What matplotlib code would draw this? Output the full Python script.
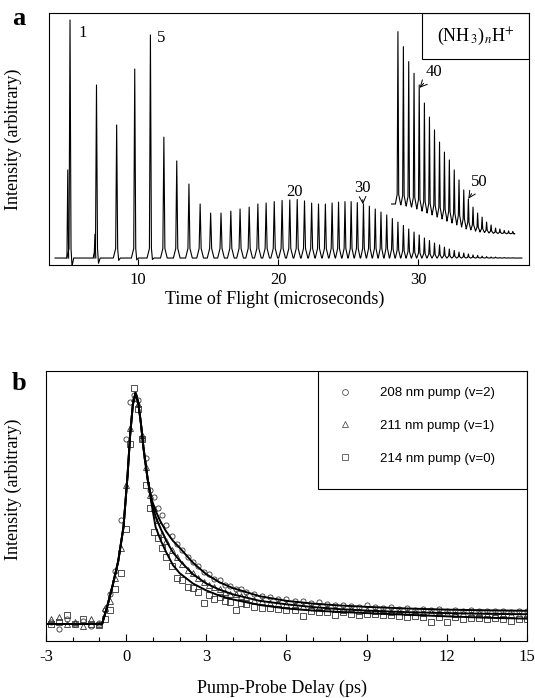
import matplotlib
matplotlib.use("Agg")
import matplotlib.pyplot as plt
from matplotlib.patches import Rectangle
from matplotlib.lines import Line2D

plt.rcParams['font.family'] = ['Liberation Serif', 'DejaVu Serif']
plt.rcParams['mathtext.fontset'] = 'stix'

# ---- panel a: (NH3)nH+ time-of-flight spectrum ----
cluster_n = list(range(1, 61))
peak_tof = [5.14, 7.03, 8.47, 9.76, 10.88, 11.84, 12.76, 13.63, 14.43, 15.18,
            15.92, 16.62, 17.28, 17.93, 18.55, 19.14, 19.72, 20.28, 20.83, 21.36,
            21.88, 22.39, 22.88, 23.37, 23.85, 24.31, 24.77, 25.21, 25.65, 26.09,
            26.51, 26.93, 27.34, 27.75, 28.15, 28.55, 28.94, 29.32, 29.70, 30.07,
            30.44, 30.80, 31.16, 31.52, 31.87, 32.22, 32.57, 32.91, 33.25, 33.58,
            33.91, 34.24, 34.56, 34.88, 35.20, 35.52, 35.83, 36.14, 36.45, 36.75]
peak_height = [100, 72.7, 55.9, 79.4, 93.7, 50.8, 40.8, 31.1, 22.7, 18.9,
               18.9, 19.7, 20.6, 21.4, 22.7, 23.1, 23.7, 24.2, 24.4, 24.6,
               24.0, 23.1, 22.7, 22.7, 23.1, 23.5, 23.7, 23.7, 23.3, 22.7,
               21.8, 20.6, 19.3, 18.1, 16.6, 15.1, 13.7, 12.2, 10.9, 9.7,
               8.4, 7.4, 6.3, 5.5, 4.6, 3.8, 3.2, 2.5, 2.1, 1.7,
               1.3, 1.1, 0.8, 0.6, 0.4, 0.4, 0.2, 0.2, 0.1, 0.1]
# ringing below the baseline after the first peaks
ring_depth = [-3.5, -2.2, -1.0, -0.8, -0.6] + [0.0] * 55
# weaker shoulder peaks in front of n=1 and n=2
shoulder_tof = [4.98, 6.92]
shoulder_height = [37.0, 10.0]
trace_start, trace_end = 4.07, 37.4

# magnified copy of the large clusters (offset trace)
inset_n = list(range(36, 61))
inset_top = [95.1, 88.8, 82.5, 77.6, 72.7, 65.1, 59.2, 53.8, 48.7, 44.5,
             41.2, 37.0, 32.8, 28.6, 24.8, 21.4, 18.9, 17.2, 15.1, 13.9,
             12.6, 12.2, 11.6, 11.4, 11.2]
inset_valley = [22.7, 22.3, 21.8, 21.4, 20.6, 19.7, 18.9, 18.1, 17.2, 16.4,
                15.5, 14.7, 13.9, 13.0, 12.2, 11.8, 11.3, 10.9, 10.7, 10.5,
                10.4, 10.3, 10.3, 10.2, 10.2]
inset_start, inset_end = 28.1, 36.8

# ---- panel b: pump-probe transients ----
delay = [-2.8, -2.5, -2.2, -1.9, -1.6, -1.3, -1.0, -0.8, -0.6, -0.4, -0.2, 0.0,
         0.15, 0.3, 0.45, 0.6, 0.75, 0.9, 1.05, 1.2, 1.35, 1.5,
         1.7, 1.9, 2.1, 2.3, 2.5, 2.7, 2.9, 3.1, 3.3, 3.5, 3.7, 3.9, 4.1, 4.3, 4.5,
         4.8, 5.1, 5.4, 5.7, 6.0, 6.3, 6.6, 6.9, 7.2, 7.5, 7.8, 8.1, 8.4, 8.7,
         9.0, 9.3, 9.6, 9.9, 10.2, 10.5, 10.8, 11.1, 11.4, 11.7, 12.0, 12.3,
         12.6, 12.9, 13.2, 13.5, 13.8, 14.1, 14.4, 14.7, 15.0]
sig_208 = [0.01, -0.02, 0.02, 0.0, 0.015, -0.01, 0.005, 0.06, 0.13, 0.23, 0.45, 0.80,
           0.96, 0.99, 0.97, 0.80, 0.72, 0.58, 0.55, 0.50, 0.47, 0.43,
           0.38, 0.345, 0.32, 0.29, 0.27, 0.25, 0.225, 0.215, 0.195, 0.19, 0.17, 0.165, 0.15, 0.15, 0.14,
           0.13, 0.12, 0.115, 0.11, 0.11, 0.10, 0.10, 0.09, 0.095, 0.085, 0.08, 0.083, 0.078, 0.075,
           0.08, 0.072, 0.07, 0.073, 0.066, 0.068, 0.062, 0.065, 0.06, 0.063, 0.058, 0.062,
           0.057, 0.06, 0.055, 0.058, 0.054, 0.057, 0.052, 0.056, 0.055]
sig_211 = [0.02, 0.03, 0.0, 0.01, -0.01, 0.02, 0.0, 0.07, 0.10, 0.20, 0.33, 0.60,
           0.85, 0.98, 0.95, 0.82, 0.68, 0.56, 0.50, 0.45, 0.39, 0.36,
           0.32, 0.29, 0.26, 0.235, 0.22, 0.20, 0.18, 0.17, 0.16, 0.15, 0.14, 0.13, 0.13, 0.12, 0.115,
           0.105, 0.10, 0.092, 0.09, 0.085, 0.08, 0.078, 0.072, 0.075, 0.068, 0.066, 0.062, 0.065, 0.058,
           0.06, 0.055, 0.056, 0.052, 0.054, 0.05, 0.052, 0.047, 0.05, 0.046, 0.048, 0.044,
           0.047, 0.043, 0.046, 0.042, 0.045, 0.041, 0.044, 0.04, 0.043]
sig_214 = [0.0, 0.01, 0.04, 0.0, 0.02, 0.0, -0.005, 0.02, 0.06, 0.15, 0.22, 0.41,
           0.78, 1.02, 0.93, 0.80, 0.60, 0.50, 0.40, 0.37, 0.33, 0.29,
           0.25, 0.20, 0.19, 0.16, 0.155, 0.14, 0.09, 0.125, 0.11, 0.115, 0.10, 0.095, 0.06, 0.09, 0.085,
           0.075, 0.07, 0.068, 0.065, 0.06, 0.06, 0.035, 0.055, 0.05, 0.05, 0.04, 0.05, 0.045, 0.04,
           0.045, 0.042, 0.04, 0.038, 0.035, 0.03, 0.036, 0.03, 0.01, 0.032, 0.008, 0.03,
           0.02, 0.028, 0.025, 0.022, 0.025, 0.02, 0.012, 0.022, 0.02]

# fitted curves
fit_delay = [-3.0, -0.9, -0.7, -0.5, -0.3, -0.1, 0.05, 0.15, 0.25, 0.35, 0.45, 0.55,
             0.65, 0.8, 0.95, 1.1, 1.3, 1.5, 1.75, 2.0, 2.5, 3.0, 3.5, 4.0, 5.0,
             6.0, 7.0, 8.0, 9.0, 10.5, 12.0, 13.5, 15.0]
rise = [0.0, 0.0, 0.08, 0.17, 0.27, 0.42, 0.64, 0.82, 0.95, 1.0, 0.96, 0.87, 0.76, 0.63]
fit_208 = rise + [0.54, 0.49, 0.44, 0.40, 0.36, 0.33, 0.265, 0.215, 0.18, 0.155, 0.12,
                  0.10, 0.088, 0.08, 0.074, 0.067, 0.062, 0.059, 0.057]
fit_211 = rise + [0.53, 0.465, 0.41, 0.36, 0.31, 0.275, 0.215, 0.175, 0.148, 0.128, 0.10,
                  0.085, 0.073, 0.064, 0.058, 0.051, 0.047, 0.044, 0.042]
fit_214 = rise + [0.52, 0.42, 0.36, 0.31, 0.255, 0.22, 0.175, 0.145, 0.122, 0.106, 0.082,
                  0.067, 0.058, 0.052, 0.047, 0.04, 0.033, 0.027, 0.023]

legend_labels = ['208 nm pump (v=2)', '211 nm pump (v=1)', '214 nm pump (v=0)']


def spike_trace(pos, top, base, dips, start, end, start_level, wmax):
    # each peak drawn as a sharp spike with a broad foot; foot width follows peak spacing
    order = sorted(range(len(pos)), key=lambda i: pos[i])
    xs, ys = [start], [start_level]
    for k, i in enumerate(order):
        p, h, b, d = pos[i], top[i], base[i], dips[i]
        gaps = []
        if k > 0:
            gaps.append(p - pos[order[k - 1]])
        if k < len(order) - 1:
            gaps.append(pos[order[k + 1]] - p)
        w = min(0.47 * min(gaps), wmax)
        foot = min(0.22 * (h - b), 4.0)
        xs += [p - w, p - 0.3 * w, p, p + 0.3 * w]
        ys += [b, b + foot, h, b + foot]
        if d != 0:
            xs += [p + 0.6 * w, p + 1.1 * w]
            ys += [b + d, b]
        else:
            xs.append(p + w)
            ys.append(b)
    xs.append(end)
    ys.append(ys[-1])
    return xs, ys


fig = plt.figure(figsize=(5.35, 6.98), dpi=100)

# ---------------- panel a ----------------
axa = fig.add_axes([0.0916, 0.6203, 0.897, 0.361])
x_main, y_main = spike_trace(peak_tof, peak_height, [0.0] * 60, ring_depth,
                             trace_start, trace_end, 0.0, 0.24)
axa.plot(x_main, y_main, color='black', lw=0.8)
# shoulders drawn as thin spikes on the baseline
for p, h in zip(shoulder_tof, shoulder_height):
    axa.plot([p - 0.06, p, p + 0.06], [0, h, 0], color='black', lw=0.8)

inset_pos = [peak_tof[n - 1] for n in inset_n]
x_ins, y_ins = spike_trace(inset_pos, inset_top, inset_valley, [0.0] * len(inset_n),
                           inset_start, inset_end, inset_valley[0], 0.24)
axa.plot(x_ins, y_ins, color='black', lw=0.8)

axa.set_xlim(3.64, 37.9)
axa.set_ylim(-2.94, 102.9)
axa.set_xticks([10, 20, 30])
axa.set_yticks([])
axa.tick_params(axis='x', direction='in', length=4, width=0.8, labelsize=12, pad=5)
for s in axa.spines.values():
    s.set_linewidth(0.8)

axa.text(5.71, 94.5, '1', fontsize=12, ha='left', va='center')
axa.text(11.36, 92.4, '5', fontsize=12, ha='left', va='center')
axa.text(21.2, 27.9, '20', fontsize=12, ha='center', va='center')
arrow = dict(arrowstyle='->', lw=0.7, color='black', shrinkA=1, shrinkB=0)
axa.annotate('30', xy=(26.05, 22.6), xytext=(26.0, 29.6), fontsize=12,
             ha='center', va='center', arrowprops=arrow)
axa.annotate('40', xy=(30.1, 71.5), xytext=(31.15, 78.3), fontsize=12,
             ha='center', va='center', arrowprops=arrow)
axa.annotate('50', xy=(33.58, 24.9), xytext=(34.35, 32.1), fontsize=12,
             ha='center', va='center', arrowprops=arrow)

axa.add_patch(Rectangle((0.778, 0.816), 0.222, 0.184, transform=axa.transAxes,
                        fill=False, lw=0.8, edgecolor='black'))
axa.text(0.889, 0.908, r'(NH$_{\,3}$)$_{n}$H$^{+}$', transform=axa.transAxes,
         fontsize=13, ha='center', va='center')

axa.set_xlabel('Time of Flight (microseconds)', fontsize=13)
axa.xaxis.set_label_coords(0.47, -0.10)
axa.set_ylabel('Intensity (arbitrary)', fontsize=13)
axa.yaxis.set_label_coords(-0.056, 0.5)

fig.text(12 / 535, 1 - 25 / 698, 'a', fontsize=19, fontweight='bold', va='baseline')

# ---------------- panel b ----------------
axb = fig.add_axes([0.086, 0.0817, 0.899, 0.3868])
mk = dict(ls='none', mfc='none', mec='#333333', mew=0.6, ms=3.7)
axb.plot(delay, sig_208, marker='o', **mk)
axb.plot(delay, sig_211, marker='^', **mk)
axb.plot(delay, sig_214, marker='s', **mk)
for f in (fit_208, fit_211, fit_214):
    axb.plot(fit_delay, f, color='black', lw=1.4)

axb.set_xlim(-3, 15)
axb.set_ylim(-0.0736, 1.095)
axb.set_xticks([-3, 0, 3, 6, 9, 12, 15])
axb.set_xticklabels(['-3', '0', '3', '6', '9', '12', '15'])
axb.set_xticks(range(-2, 15), minor=True)
axb.set_yticks([])
axb.tick_params(axis='x', which='major', direction='in', length=5, width=0.8,
                labelsize=12, pad=6)
axb.tick_params(axis='x', which='minor', direction='in', length=3, width=0.8)
for s in axb.spines.values():
    s.set_linewidth(0.8)

axb.add_patch(Rectangle((0.565, 0.563), 0.435, 0.437, transform=axb.transAxes,
                        fill=False, lw=0.8, edgecolor='black', zorder=3))
leg_mk = dict(ls='none', mfc='none', mec='#555555', mew=0.6, ms=4.2)
handles = [Line2D([], [], marker=m, **leg_mk) for m in ('o', '^', 's')]
axb.legend(handles, legend_labels, loc='upper left', bbox_to_anchor=(0.595, 0.94),
           frameon=False, borderpad=0, borderaxespad=0, labelspacing=1.55,
           handletextpad=1.6, handlelength=2.0,
           prop={'family': 'Liberation Sans', 'size': 9.5})

axb.set_xlabel('Pump-Probe Delay (ps)', fontsize=13)
axb.xaxis.set_label_coords(0.49, -0.143)
axb.set_ylabel('Intensity (arbitrary)', fontsize=13)
axb.yaxis.set_label_coords(-0.049, 0.56)

fig.text(12 / 535, 1 - 390 / 698, 'b', fontsize=19, fontweight='bold', va='baseline')

fig.savefig('out.png', dpi=100)
